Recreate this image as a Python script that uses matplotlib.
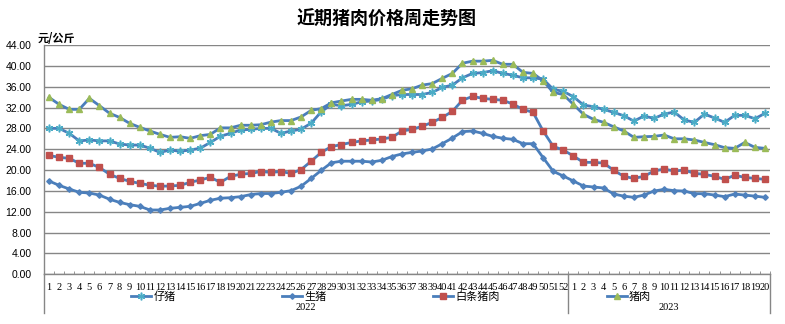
import matplotlib
matplotlib.use("Agg")
import matplotlib.pyplot as plt
import matplotlib.transforms as mtransforms
import numpy as np

plt.rcParams['font.family'] = ['Noto Sans CJK SC', 'DejaVu Sans']

weeks_2022 = list(range(1, 53))
weeks_2023 = list(range(1, 21))
week_labels = [str(w) for w in weeks_2022 + weeks_2023]
years = ["2022", "2023"]

piglet = [28.0, 28.0, 27.05, 25.6, 25.77, 25.6, 25.6, 25.0, 24.8, 24.8,
          24.2, 23.4, 23.85, 23.6, 23.85, 24.2, 25.3, 26.5, 27.05, 27.7,
          27.8, 28.0, 28.0, 27.05, 27.5, 27.85, 29.0, 31.2, 32.6, 32.35,
          32.6, 33.1, 33.25, 33.57, 34.27, 34.5, 34.5, 34.5, 34.9, 35.87,
          36.3, 37.7, 38.55, 38.7, 39.07, 38.55, 38.2, 37.7, 37.7, 37.45,
          35.5, 35.1, 34.08, 32.48, 32.16, 31.65, 31.07, 30.43, 29.4, 30.37,
          29.92, 30.75, 31.14, 29.6, 29.16, 30.75, 29.99, 29.16, 30.5, 30.5,
          29.86, 30.88]

hog = [17.9, 17.07, 16.37, 15.73, 15.6, 15.2, 14.4, 13.8, 13.36, 13.04,
       12.34, 12.34, 12.66, 12.85, 13.04, 13.6, 14.2, 14.6, 14.7, 14.9,
       15.3, 15.5, 15.5, 15.73, 16.05, 16.9, 18.4, 19.95, 21.4, 21.7,
       21.7, 21.7, 21.55, 21.87, 22.6, 23.1, 23.4, 23.66, 24.04, 25.06,
       26.15, 27.37, 27.5, 27.05, 26.47, 26.1, 25.9, 25.06, 25.06, 22.38,
       19.76, 18.86, 17.9, 16.94, 16.75, 16.56, 15.4, 15.0, 14.77, 15.2,
       15.98, 16.3, 16.05, 15.98, 15.47, 15.47, 15.2, 14.9, 15.4, 15.2,
       15.0, 14.77]

carcass = [22.8, 22.45, 22.25, 21.3, 21.3, 20.5, 19.2, 18.4, 17.84, 17.45,
           17.1, 16.9, 16.94, 17.07, 17.65, 18.1, 18.6, 17.65, 18.8, 19.2,
           19.37, 19.7, 19.56, 19.7, 19.37, 20.1, 21.7, 23.4, 24.5, 24.9,
           25.3, 25.6, 25.77, 25.96, 26.28, 27.5, 27.8, 28.4, 29.16, 30.1,
           31.27, 33.4, 34.14, 33.76, 33.57, 33.4, 32.67, 31.65, 31.07, 27.5,
           24.55, 23.85, 22.7, 21.48, 21.48, 21.35, 19.95, 18.8, 18.4, 18.8,
           19.82, 20.2, 19.82, 20.0, 19.37, 19.18, 18.8, 18.22, 19.0, 18.6,
           18.4, 18.22]

pork = [33.95, 32.6, 31.65, 31.65, 33.76, 32.35, 30.9, 30.1, 28.96, 28.2,
        27.5, 26.85, 26.28, 26.4, 26.09, 26.6, 26.85, 28.1, 28.1, 28.6,
        28.6, 28.7, 29.2, 29.5, 29.5, 30.2, 31.46, 31.8, 32.9, 33.25,
        33.57, 33.57, 33.4, 33.7, 34.5, 35.3, 35.6, 36.3, 36.6, 37.6,
        38.55, 40.5, 40.9, 40.9, 41.05, 40.3, 40.3, 38.75, 38.55, 37.15,
        34.9, 34.5, 32.6, 30.7, 29.73, 29.16, 28.3, 27.5, 26.28, 26.4,
        26.47, 26.73, 26.0, 26.0, 25.77, 25.3, 24.87, 24.3, 24.17, 25.3,
        24.36, 24.17]

series_names = ["仔猪", "生猪", "白条猪肉", "猪肉"]

W, H = 785, 324
fig = plt.figure(figsize=(W / 100, H / 100), dpi=100)
ax = fig.add_axes([44 / W, 1 - 274.3 / H, (770 - 44) / W, (274.3 - 45) / H])

x = np.arange(len(week_labels))
line_col = "#4A7EBB"
grid_col = "#868686"

ax.plot(x, piglet, color=line_col, lw=2, marker=(6, 2, 0), ms=5.5,
        mec="#4BACC6", mfc="#4BACC6", mew=1.1, label=series_names[0], zorder=3)
ax.plot(x, hog, color=line_col, lw=2, marker="D", ms=2.8,
        mec="#4F81BD", mfc="#4F81BD", label=series_names[1], zorder=3)
ax.plot(x, carcass, color=line_col, lw=2, marker="s", ms=4.5,
        mec="#C0504D", mfc="#C0504D", label=series_names[2], zorder=3)
ax.plot(x, pork, color=line_col, lw=2, marker="^", ms=5,
        mec="#9BBB59", mfc="#9BBB59", label=series_names[3], zorder=3)

ax.set_xlim(-0.5, len(week_labels) - 0.5)
ax.set_ylim(0, 44)
yt = np.arange(0, 44.1, 4)
ax.set_yticks(yt)
ax.set_yticklabels([f"{v:.2f}" for v in yt], family="Liberation Sans", fontsize=7.5)
ax.yaxis.grid(True, color=grid_col, lw=1)
ax.set_axisbelow(True)
ax.tick_params(axis="y", length=0, pad=9)

ax.set_xticks(x)
ax.set_xticklabels(week_labels, family="Liberation Serif", fontsize=7.5)
ax.tick_params(axis="x", which="major", length=0, pad=6)
ax.set_xticks(np.arange(-0.5, len(week_labels), 1), minor=True)
ax.tick_params(axis="x", which="minor", direction="in", length=2, color=grid_col)

for s in ["top", "right"]:
    ax.spines[s].set_visible(False)
for s in ["left", "bottom"]:
    ax.spines[s].set_color(grid_col)
    ax.spines[s].set_linewidth(1)

trans = mtransforms.blended_transform_factory(ax.transData, ax.transAxes)
drop = -(313 - 274.3) / (274.3 - 45)
for bx in [-0.5, len(weeks_2022) - 0.5, len(week_labels) - 0.5]:
    ax.plot([bx, bx], [0, drop], transform=trans, color=grid_col, lw=1, clip_on=False)

centers = [(len(weeks_2022) - 1) / 2, len(weeks_2022) + (len(weeks_2023) - 1) / 2]
for c, yr in zip(centers, years):
    ax.text(c, -(307 - 274.3) / (274.3 - 45), yr, transform=trans, ha="center", va="center",
            family="Liberation Serif", fontsize=7.5)

fig.legend(loc="center left", bbox_to_anchor=(131 / W, 1 - 297 / H), ncol=4, frameon=False,
           fontsize=8, borderpad=0, borderaxespad=0, handlelength=1.8, handletextpad=0.2,
           columnspacing=9.6)

fig.text(387 / W, 1 - 19 / H, "近期猪肉价格周走势图", ha="center", va="center",
         fontsize=13, fontweight="bold")
fig.text(38 / W, 1 - 38 / H, "元/公斤", ha="left", va="center", fontsize=8, fontweight="bold")

fig.savefig("out.png", dpi=100)
